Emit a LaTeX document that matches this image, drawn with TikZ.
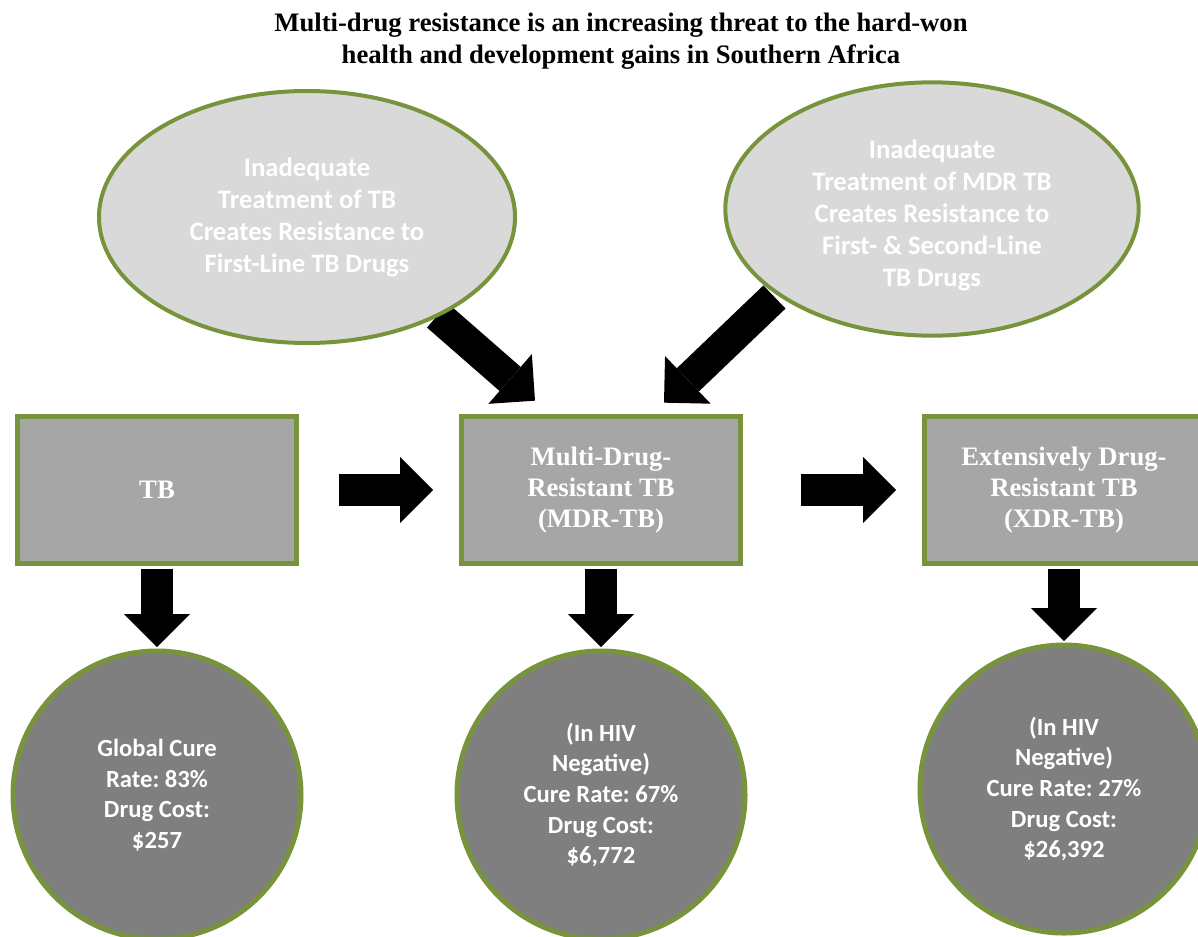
\documentclass[tikz,border=0pt]{standalone}
\usepackage{fontspec}
\setmainfont{Liberation Serif}
\newfontfamily\calibri{Carlito}
\usetikzlibrary{arrows.meta, shapes.geometric, backgrounds}
\definecolor{cgreen}{HTML}{77933C}
\definecolor{cbox}{HTML}{A6A6A6}
\definecolor{coval}{HTML}{D9D9D9}
\definecolor{cdisc}{HTML}{7F7F7F}
\frenchspacing
\tikzset{
  stage/.style={draw=cgreen, fill=cbox, line width=3.75pt, minimum width=209pt, minimum height=110pt,
    align=center, text=white, font=\bfseries\fontsize{20}{23}\selectfont},
  cause/.style={ellipse, draw=cgreen, fill=coval, line width=3pt, inner sep=0pt, align=center,
    text=white, font=\calibri\bfseries\fontsize{20}{24}\selectfont},
  result/.style={circle, draw=cgreen, fill=cdisc, line width=3.75pt, minimum size=216pt, inner sep=0pt,
    align=center, text=white, font=\calibri\bfseries\fontsize{18.5}{23}\selectfont},
  blockarrow/.style={-{Triangle[length=24.75pt, width=49.5pt, line width=0pt]}, draw=black, line width=24pt},
  title/.style={font=\bfseries\fontsize{20}{24}\selectfont, align=center},
}

\begin{document}
\begin{tikzpicture}[x=0.75pt, y=-0.75pt]
  \useasboundingbox (0,0) rectangle (1198,936);
  \node[title] (title) at (621,41) {Multi-drug resistance is an increasing threat to the hard-won\\health and development gains in Southern Africa};

  % causes
  \node[cause, minimum width=312pt, minimum height=189pt] (e1) at (307,217)
    {Inadequate\\Treatment of TB\\Creates Resistance to\\First-Line TB Drugs};
  \node[cause, minimum width=310pt, minimum height=190pt] (e2) at (932,209)
    {\rule{0pt}{24pt}Inadequate\\Treatment of MDR TB\\Creates Resistance to\\First- \& Second-Line\\TB Drugs};

  % stages and outcomes
  \foreach \X/\Y/\b/\c [count=\i] in {
     157/795/{TB}/{Global Cure\\Rate: 83\%\\Drug Cost:\\\$257},
     601/795/{Multi-Drug-\\Resistant TB\\(MDR-TB)}/{(In HIV\\Negative)\\Cure Rate: 67\%\\Drug Cost:\\\$6,772},
     1064/789/{Extensively Drug-\\Resistant TB\\(XDR-TB)}/{(In HIV\\Negative)\\Cure Rate: 27\%\\Drug Cost:\\\$26,392}} {
    \node[stage] (b\i) at (\X,490) {\b};
    \node[result] (c\i) at (\X,\Y) {\c};
    \draw[blockarrow, shorten <=2pt, shorten >=1pt] (b\i) -- (c\i);
  }

  \draw[blockarrow, shorten <=30pt, shorten >=19.5pt] (b1) -- (b2);
  \draw[blockarrow, shorten <=43.5pt, shorten >=19.5pt] (b2) -- (b3);

  \begin{scope}[on background layer]
    \draw[blockarrow] ([shift={(-18,8)}]e1.south east) -- ([shift={(-66,-13.5)}]b2.north);
    \draw[blockarrow] ([shift={(-10,-3)}]e2.south west) -- ([shift={(63,-11.5)}]b2.north);
  \end{scope}
\end{tikzpicture}
\end{document}
